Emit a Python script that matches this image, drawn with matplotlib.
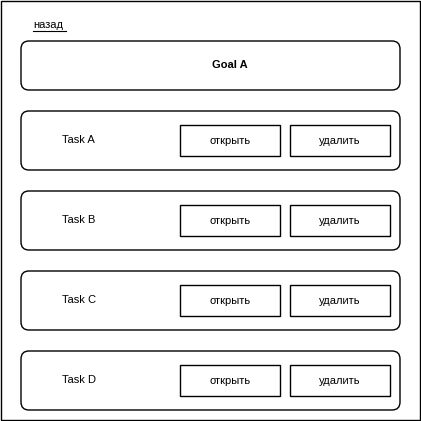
import matplotlib
matplotlib.use('Agg')
import matplotlib.pyplot as plt
from matplotlib.patches import FancyBboxPatch, Rectangle

back_label = 'назад'
goal_name = 'Goal A'
tasks = ['Task A', 'Task B', 'Task C', 'Task D']
buttons = ['открыть', 'удалить']

plt.rcParams['font.family'] = ['Liberation Sans', 'DejaVu Sans']

fig = plt.figure(figsize=(4.21, 4.21), dpi=100)
ax = fig.add_axes([0, 0, 1, 1])
ax.set_xlim(0, 421)
ax.set_ylim(421, 0)
ax.axis('off')

ax.add_patch(Rectangle((1, 1), 419, 419, fill=False, ec='black', lw=1))

ax.text(33, 25, back_label, fontsize=8, va='center', ha='left')
ax.plot([33, 66], [30.5, 30.5], color='black', lw=0.8)

def rbox(x, y, w, h):
    ax.add_patch(FancyBboxPatch((x + 8, y + 8), w - 16, h - 16,
                                boxstyle='round,pad=8', fill=False,
                                ec='black', lw=1))

rbox(21, 41, 379, 49)
ax.text(230, 65.5, goal_name, fontsize=8, fontweight='bold',
        ha='center', va='center')

for i, name in enumerate(tasks):
    y = 111 + i * 80
    rbox(21, y, 379, 59)
    ax.text(62, y + 29, name, fontsize=8, ha='left', va='center')
    for j, b in enumerate(buttons):
        bx = 180 + j * 110
        ax.add_patch(Rectangle((bx, y + 14), 100, 31, fill=False,
                               ec='black', lw=1))
        ax.text(bx + 50, y + 29.5, b, fontsize=8, ha='center', va='center')

fig.savefig('out.png', dpi=100)
